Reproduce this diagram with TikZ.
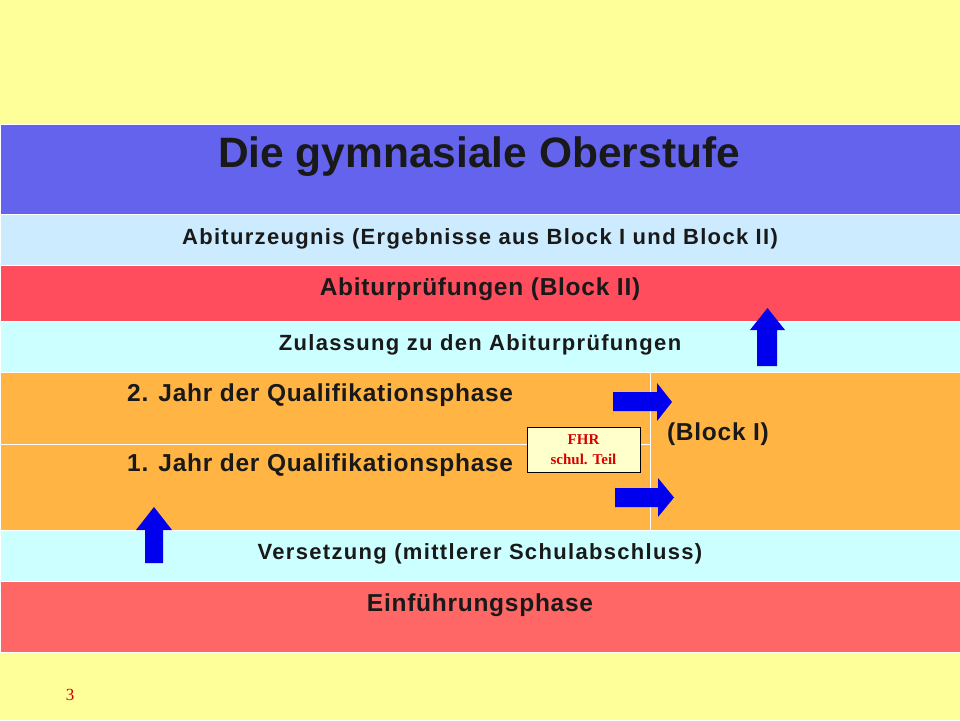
\documentclass[tikz,border=0pt]{standalone}
\usepackage{fontspec}
\setmainfont{Liberation Sans}
\newfontfamily\serifx{Liberation Serif}
\newfontfamily\spA[LetterSpace=6]{Liberation Sans}
\newfontfamily\spB[LetterSpace=3]{Liberation Sans}
\definecolor{bg}{HTML}{FFFF99}
\definecolor{ttl}{HTML}{6363EE}
\definecolor{lblue}{HTML}{CCEBFF}
\definecolor{rred}{HTML}{FF4D5E}
\definecolor{lcyan}{HTML}{CCFFFF}
\definecolor{orng}{HTML}{FFB444}
\definecolor{salm}{HTML}{FF6666}
\definecolor{fhrbg}{HTML}{FFFFCC}
\definecolor{arr}{HTML}{0000EE}
\begin{document}
\begin{tikzpicture}[x=1pt,y=-1pt,
 cell/.style={draw=white,line width=0.8pt},
 lbl/.style={font=\spA\bfseries\fontsize{22}{24}\selectfont,text=black!90},
 big/.style={font=\spB\bfseries\fontsize{24.5}{27}\selectfont,text=black!90},
 arrowshape/.style={fill=arr,draw=none}]
\useasboundingbox (0,0) rectangle (960,720);
\fill[bg] (0,0) rectangle (960,720);
\filldraw[cell,fill=ttl] (0,124) rectangle (960,214);
\filldraw[cell,fill=lblue] (0,214) rectangle (960,265);
\filldraw[cell,fill=rred] (0,265) rectangle (960,321);
\filldraw[cell,fill=lcyan] (0,321) rectangle (960,372);
\filldraw[cell,fill=orng] (0,372) rectangle (650,444);
\filldraw[cell,fill=orng] (0,444) rectangle (650,530);
\filldraw[cell,fill=orng] (650,372) rectangle (960,530);
\filldraw[cell,fill=lcyan] (0,530) rectangle (960,581);
\filldraw[cell,fill=salm] (0,581) rectangle (960,652);
\node[font=\bfseries\fontsize{42.5}{45}\selectfont,text=black!90] (title) at (479,157) {Die gymnasiale Oberstufe};
\node[lbl] (zeug) at (480,239) {Abiturzeugnis (Ergebnisse aus Block I und Block II)};
\node[big] (pruef) at (480,289) {Abiturprüfungen (Block II)};
\node[lbl] (zul) at (480,345) {Zulassung zu den Abiturprüfungen};
\node[big,anchor=west,inner sep=0pt] (j2) at (127,395) {2. Jahr der Qualifikationsphase};
\node[big,anchor=west,inner sep=0pt] (j1) at (127,465) {1. Jahr der Qualifikationsphase};
\node[big] (blk) at (718,434) {(Block I)};
\node[lbl] (vers) at (480,554) {Versetzung (mittlerer Schulabschluss)};
\node[big] (einf) at (480,605) {Einführungsphase};
\node[draw=black,fill=fhrbg,line width=0.8pt,minimum width=113pt,minimum height=45pt,align=center,
 font=\serifx\bfseries\fontsize{15}{20}\selectfont,text=red!85!black] (fhr) at (583.5,449.5) {FHR\\schul. Teil};
\node[font=\serifx\fontsize{17}{18}\selectfont,text=red!80!black] (pg) at (70,695) {3};
% arrows
\fill[arrowshape] (757,366) -- (757,330) -- (750,330) -- (767.5,308) -- (785,330) -- (777,330) -- (777,366) -- cycle;
\fill[arrowshape] (145,563) -- (145,530) -- (136,530) -- (154,507) -- (172,530) -- (163,530) -- (163,563) -- cycle;
\fill[arrowshape] (613,392) -- (657,392) -- (657,383) -- (672,402) -- (657,421) -- (657,411) -- (613,411) -- cycle;
\fill[arrowshape] (615,488) -- (658,488) -- (658,478) -- (674,497.5) -- (658,517) -- (658,507) -- (615,507) -- cycle;
\end{tikzpicture}
\end{document}
